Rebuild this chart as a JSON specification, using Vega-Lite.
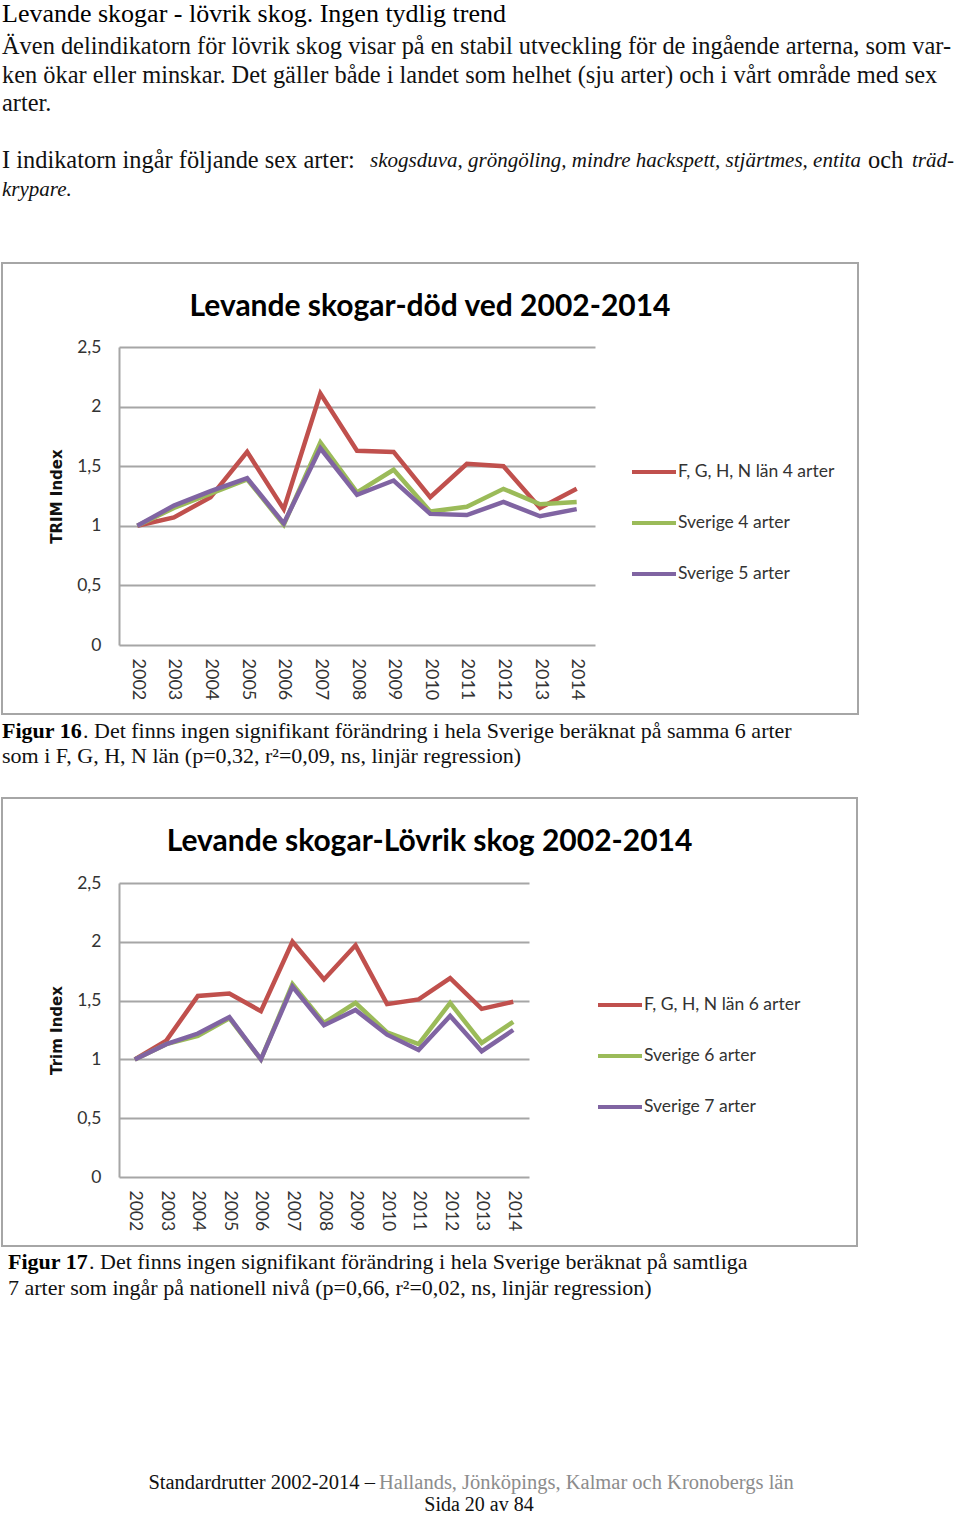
{
  "$schema": "https://vega.github.io/schema/vega-lite/v6.json",
  "padding": {"left": 1, "top": 0, "right": 0, "bottom": 0},
  "background": "white",
  "spacing": 0,
  "bounds": "flush",
  "config": {"view": {"stroke": null}},
  "resolve": {"scale": {"color": "independent"}, "legend": {"color": "independent"}},
  "datasets": {
    "intro": [
      {"kind": "h", "line": 0, "text": "Levande skogar - lövrik skog. Ingen tydlig trend"},
      {"kind": "n", "line": 1, "text": "Även delindikatorn för lövrik skog visar på en stabil utveckling för de ingående arterna, som var-"},
      {"kind": "n", "line": 2, "text": "ken ökar eller minskar. Det gäller både i landet som helhet (sju arter) och i vårt område med sex"},
      {"kind": "n", "line": 3, "text": "arter."},
      {"kind": "n", "line": 5, "text": "I indikatorn ingår följande sex arter:"},
      {"kind": "i1", "line": 5, "text": "skogsduva, gröngöling, mindre hackspett, stjärtmes, entita"},
      {"kind": "n2", "line": 5, "text": "och"},
      {"kind": "i2", "line": 5, "text": "träd-"},
      {"kind": "i0", "line": 6, "text": "krypare."}
    ],
    "cap1": [
      {"kind": "b", "line": 1, "text": "Figur 16"},
      {"kind": "r1", "line": 1, "text": ". Det finns ingen signifikant förändring i hela Sverige beräknat på samma 6 arter"},
      {"kind": "r0", "line": 2, "text": "som i F, G, H, N län (p=0,32, r²=0,09, ns, linjär regression)"}
    ],
    "cap2": [
      {"kind": "b", "line": 1, "text": "Figur 17"},
      {"kind": "r1", "line": 1, "text": ". Det finns ingen signifikant förändring i hela Sverige beräknat på samtliga"},
      {"kind": "r0", "line": 2, "text": "7 arter som ingår på nationell nivå (p=0,66, r²=0,02, ns, linjär regression)"}
    ],
    "foot": [
      {"kind": "k", "line": 1, "text": "Standardrutter 2002-2014 –"},
      {"kind": "g", "line": 1, "text": "Hallands, Jönköpings, Kalmar och Kronobergs län"},
      {"kind": "c", "line": 2, "text": "Sida 20 av 84"}
    ],
    "d1": [
      {"year": "2002", "series": "F, G, H, N län 4 arter", "v": 1.00},
      {"year": "2003", "series": "F, G, H, N län 4 arter", "v": 1.07},
      {"year": "2004", "series": "F, G, H, N län 4 arter", "v": 1.24},
      {"year": "2005", "series": "F, G, H, N län 4 arter", "v": 1.62},
      {"year": "2006", "series": "F, G, H, N län 4 arter", "v": 1.14},
      {"year": "2007", "series": "F, G, H, N län 4 arter", "v": 2.11},
      {"year": "2008", "series": "F, G, H, N län 4 arter", "v": 1.63},
      {"year": "2009", "series": "F, G, H, N län 4 arter", "v": 1.62},
      {"year": "2010", "series": "F, G, H, N län 4 arter", "v": 1.24},
      {"year": "2011", "series": "F, G, H, N län 4 arter", "v": 1.52},
      {"year": "2012", "series": "F, G, H, N län 4 arter", "v": 1.50},
      {"year": "2013", "series": "F, G, H, N län 4 arter", "v": 1.15},
      {"year": "2014", "series": "F, G, H, N län 4 arter", "v": 1.31},
      {"year": "2002", "series": "Sverige 4 arter", "v": 1.00},
      {"year": "2003", "series": "Sverige 4 arter", "v": 1.15},
      {"year": "2004", "series": "Sverige 4 arter", "v": 1.27},
      {"year": "2005", "series": "Sverige 4 arter", "v": 1.39},
      {"year": "2006", "series": "Sverige 4 arter", "v": 1.01},
      {"year": "2007", "series": "Sverige 4 arter", "v": 1.70},
      {"year": "2008", "series": "Sverige 4 arter", "v": 1.28},
      {"year": "2009", "series": "Sverige 4 arter", "v": 1.47},
      {"year": "2010", "series": "Sverige 4 arter", "v": 1.12},
      {"year": "2011", "series": "Sverige 4 arter", "v": 1.16},
      {"year": "2012", "series": "Sverige 4 arter", "v": 1.31},
      {"year": "2013", "series": "Sverige 4 arter", "v": 1.18},
      {"year": "2014", "series": "Sverige 4 arter", "v": 1.20},
      {"year": "2002", "series": "Sverige 5 arter", "v": 1.00},
      {"year": "2003", "series": "Sverige 5 arter", "v": 1.17},
      {"year": "2004", "series": "Sverige 5 arter", "v": 1.29},
      {"year": "2005", "series": "Sverige 5 arter", "v": 1.40},
      {"year": "2006", "series": "Sverige 5 arter", "v": 1.02},
      {"year": "2007", "series": "Sverige 5 arter", "v": 1.65},
      {"year": "2008", "series": "Sverige 5 arter", "v": 1.26},
      {"year": "2009", "series": "Sverige 5 arter", "v": 1.38},
      {"year": "2010", "series": "Sverige 5 arter", "v": 1.10},
      {"year": "2011", "series": "Sverige 5 arter", "v": 1.09},
      {"year": "2012", "series": "Sverige 5 arter", "v": 1.20},
      {"year": "2013", "series": "Sverige 5 arter", "v": 1.08},
      {"year": "2014", "series": "Sverige 5 arter", "v": 1.14}
    ],
    "d2": [
      {"year": "2002", "series": "F, G, H, N län 6 arter", "v": 1.00},
      {"year": "2003", "series": "F, G, H, N län 6 arter", "v": 1.16},
      {"year": "2004", "series": "F, G, H, N län 6 arter", "v": 1.54},
      {"year": "2005", "series": "F, G, H, N län 6 arter", "v": 1.56},
      {"year": "2006", "series": "F, G, H, N län 6 arter", "v": 1.41},
      {"year": "2007", "series": "F, G, H, N län 6 arter", "v": 2.00},
      {"year": "2008", "series": "F, G, H, N län 6 arter", "v": 1.68},
      {"year": "2009", "series": "F, G, H, N län 6 arter", "v": 1.97},
      {"year": "2010", "series": "F, G, H, N län 6 arter", "v": 1.47},
      {"year": "2011", "series": "F, G, H, N län 6 arter", "v": 1.51},
      {"year": "2012", "series": "F, G, H, N län 6 arter", "v": 1.69},
      {"year": "2013", "series": "F, G, H, N län 6 arter", "v": 1.43},
      {"year": "2014", "series": "F, G, H, N län 6 arter", "v": 1.49},
      {"year": "2002", "series": "Sverige 6 arter", "v": 1.00},
      {"year": "2003", "series": "Sverige 6 arter", "v": 1.13},
      {"year": "2004", "series": "Sverige 6 arter", "v": 1.20},
      {"year": "2005", "series": "Sverige 6 arter", "v": 1.35},
      {"year": "2006", "series": "Sverige 6 arter", "v": 1.00},
      {"year": "2007", "series": "Sverige 6 arter", "v": 1.64},
      {"year": "2008", "series": "Sverige 6 arter", "v": 1.31},
      {"year": "2009", "series": "Sverige 6 arter", "v": 1.48},
      {"year": "2010", "series": "Sverige 6 arter", "v": 1.23},
      {"year": "2011", "series": "Sverige 6 arter", "v": 1.13},
      {"year": "2012", "series": "Sverige 6 arter", "v": 1.48},
      {"year": "2013", "series": "Sverige 6 arter", "v": 1.14},
      {"year": "2014", "series": "Sverige 6 arter", "v": 1.32},
      {"year": "2002", "series": "Sverige 7 arter", "v": 1.00},
      {"year": "2003", "series": "Sverige 7 arter", "v": 1.13},
      {"year": "2004", "series": "Sverige 7 arter", "v": 1.22},
      {"year": "2005", "series": "Sverige 7 arter", "v": 1.36},
      {"year": "2006", "series": "Sverige 7 arter", "v": 1.00},
      {"year": "2007", "series": "Sverige 7 arter", "v": 1.62},
      {"year": "2008", "series": "Sverige 7 arter", "v": 1.29},
      {"year": "2009", "series": "Sverige 7 arter", "v": 1.42},
      {"year": "2010", "series": "Sverige 7 arter", "v": 1.21},
      {"year": "2011", "series": "Sverige 7 arter", "v": 1.08},
      {"year": "2012", "series": "Sverige 7 arter", "v": 1.37},
      {"year": "2013", "series": "Sverige 7 arter", "v": 1.07},
      {"year": "2014", "series": "Sverige 7 arter", "v": 1.25}
    ]
  },
  "vconcat": [
    {
      "width": 958, "height": 263,
      "data": {"name": "intro"},
      "layer": [
        {"transform": [{"filter": "datum.kind === 'h'"}],
         "mark": {"type": "text", "align": "left", "baseline": "middle", "font": "Liberation Serif", "fontSize": 26, "dy": -5, "color": "#000"},
         "encoding": {"x": {"value": 0}, "y": {"field": "line", "type": "quantitative", "scale": {"domain": [1, 6], "range": [47, 189.5]}, "axis": null}, "text": {"field": "text"}}},
        {"transform": [{"filter": "datum.kind === 'n'"}],
         "mark": {"type": "text", "align": "left", "baseline": "middle", "font": "Liberation Serif", "fontSize": 24.4, "color": "#111"},
         "encoding": {"x": {"value": 0}, "y": {"field": "line", "type": "quantitative", "scale": {"domain": [1, 6], "range": [47, 189.5]}, "axis": null}, "text": {"field": "text"}}},
        {"transform": [{"filter": "datum.kind === 'i0'"}],
         "mark": {"type": "text", "align": "left", "baseline": "middle", "font": "Liberation Serif", "fontSize": 21, "fontStyle": "italic", "color": "#111"},
         "encoding": {"x": {"value": 0}, "y": {"field": "line", "type": "quantitative", "scale": {"domain": [1, 6], "range": [47, 189.5]}, "axis": null}, "text": {"field": "text"}}},
        {"transform": [{"filter": "datum.kind === 'i1'"}],
         "mark": {"type": "text", "align": "left", "baseline": "middle", "font": "Liberation Serif", "fontSize": 21, "fontStyle": "italic", "color": "#111"},
         "encoding": {"x": {"value": 368}, "y": {"field": "line", "type": "quantitative", "scale": {"domain": [1, 6], "range": [47, 189.5]}, "axis": null}, "text": {"field": "text"}}},
        {"transform": [{"filter": "datum.kind === 'n2'"}],
         "mark": {"type": "text", "align": "left", "baseline": "middle", "font": "Liberation Serif", "fontSize": 24.4, "color": "#111"},
         "encoding": {"x": {"value": 866}, "y": {"field": "line", "type": "quantitative", "scale": {"domain": [1, 6], "range": [47, 189.5]}, "axis": null}, "text": {"field": "text"}}},
        {"transform": [{"filter": "datum.kind === 'i2'"}],
         "mark": {"type": "text", "align": "left", "baseline": "middle", "font": "Liberation Serif", "fontSize": 21, "fontStyle": "italic", "color": "#111"},
         "encoding": {"x": {"value": 910}, "y": {"field": "line", "type": "quantitative", "scale": {"domain": [1, 6], "range": [47, 189.5]}, "axis": null}, "text": {"field": "text"}}}
      ]
    },
    {
      "width": 856, "height": 451,
      "view": {"stroke": "#a6a6a6", "strokeWidth": 2},
      "title": {"text": "Levande skogar-död ved 2002-2014", "font": "Lato", "fontSize": 30, "fontWeight": "bold", "color": "#000", "anchor": "middle", "frame": "group", "offset": -59},
      "data": {"name": "d1"},
      "mark": {"type": "line", "strokeWidth": 4.5, "strokeJoin": "miter"},
      "encoding": {
        "x": {"field": "year", "type": "ordinal", "scale": {"type": "point", "padding": 0.5, "range": [117, 593]},
              "axis": {"orient": "bottom", "offset": -69, "domain": false, "ticks": false, "grid": false, "labelAngle": 90, "labelAlign": "left", "labelBaseline": "middle", "labelPadding": 13, "labelFont": "Lato", "labelFontSize": 18, "labelColor": "#333", "title": null}},
        "y": {"field": "v", "type": "quantitative", "scale": {"domain": [0, 2.5], "range": [382, 84], "nice": false, "zero": false},
              "axis": {"orient": "left", "offset": -117, "values": [0, 0.5, 1, 1.5, 2, 2.5], "labelExpr": "replace(format(datum.value, '~g'), '.', ',')", "grid": true, "gridColor": "#a6a6a6", "gridWidth": 2, "domainColor": "#a6a6a6", "domainWidth": 2, "ticks": false, "labelPadding": 18, "labelFont": "Lato", "labelFontSize": 17.5, "labelColor": "#333", "title": "TRIM Index", "titleFont": "DejaVu Sans", "titleFontSize": 15, "titleFontWeight": "bold", "titleColor": "#111", "titleX": -63, "titleY": 233, "titleAngle": -90, "titleAlign": "center", "titleBaseline": "middle"}},
        "color": {"field": "series", "type": "nominal",
                  "scale": {"domain": ["F, G, H, N län 4 arter", "Sverige 4 arter", "Sverige 5 arter"], "range": ["#c0504d", "#9bbb59", "#8064a2"]},
                  "legend": {"orient": "none", "legendX": 628, "legendY": 185, "title": null, "symbolType": "stroke", "symbolSize": 1936, "symbolStrokeWidth": 4, "labelFont": "Lato", "labelFontSize": 17.5, "labelColor": "#333", "labelOffset": 0, "rowPadding": 18, "padding": 0}}
      }
    },
    {
      "width": 958, "height": 84,
      "data": {"name": "cap1"},
      "layer": [
        {"transform": [{"filter": "datum.kind === 'b'"}],
         "mark": {"type": "text", "align": "left", "baseline": "middle", "font": "Liberation Serif", "fontSize": 22, "fontWeight": "bold", "color": "#000"},
         "encoding": {"x": {"value": 0}, "y": {"field": "line", "type": "quantitative", "scale": {"domain": [1, 2], "range": [17, 42]}, "axis": null}, "text": {"field": "text"}}},
        {"transform": [{"filter": "datum.kind === 'r1'"}],
         "mark": {"type": "text", "align": "left", "baseline": "middle", "font": "Liberation Serif", "fontSize": 22, "color": "#111"},
         "encoding": {"x": {"value": 81}, "y": {"field": "line", "type": "quantitative", "scale": {"domain": [1, 2], "range": [17, 42]}, "axis": null}, "text": {"field": "text"}}},
        {"transform": [{"filter": "datum.kind === 'r0'"}],
         "mark": {"type": "text", "align": "left", "baseline": "middle", "font": "Liberation Serif", "fontSize": 22, "color": "#111"},
         "encoding": {"x": {"value": 0}, "y": {"field": "line", "type": "quantitative", "scale": {"domain": [1, 2], "range": [17, 42]}, "axis": null}, "text": {"field": "text"}}}
      ]
    },
    {
      "width": 855, "height": 448,
      "view": {"stroke": "#a6a6a6", "strokeWidth": 2},
      "title": {"text": "Levande skogar-Lövrik skog 2002-2014", "font": "Lato", "fontSize": 30, "fontWeight": "bold", "color": "#000", "anchor": "middle", "frame": "group", "offset": -59},
      "data": {"name": "d2"},
      "mark": {"type": "line", "strokeWidth": 4.5, "strokeJoin": "miter"},
      "encoding": {
        "x": {"field": "year", "type": "ordinal", "scale": {"type": "point", "padding": 0.5, "range": [117, 527]},
              "axis": {"orient": "bottom", "offset": -69, "domain": false, "ticks": false, "grid": false, "labelAngle": 90, "labelAlign": "left", "labelBaseline": "middle", "labelPadding": 13, "labelFont": "Lato", "labelFontSize": 17.5, "labelColor": "#333", "title": null}},
        "y": {"field": "v", "type": "quantitative", "scale": {"domain": [0, 2.5], "range": [379, 85], "nice": false, "zero": false},
              "axis": {"orient": "left", "offset": -117, "values": [0, 0.5, 1, 1.5, 2, 2.5], "labelExpr": "replace(format(datum.value, '~g'), '.', ',')", "grid": true, "gridColor": "#a6a6a6", "gridWidth": 2, "domainColor": "#a6a6a6", "domainWidth": 2, "ticks": false, "labelPadding": 18, "labelFont": "Lato", "labelFontSize": 17.5, "labelColor": "#333", "title": "Trim Index", "titleFont": "DejaVu Sans", "titleFontSize": 15, "titleFontWeight": "bold", "titleColor": "#111", "titleX": -63, "titleY": 232, "titleAngle": -90, "titleAlign": "center", "titleBaseline": "middle"}},
        "color": {"field": "series", "type": "nominal",
                  "scale": {"domain": ["F, G, H, N län 6 arter", "Sverige 6 arter", "Sverige 7 arter"], "range": ["#c0504d", "#9bbb59", "#8064a2"]},
                  "legend": {"orient": "none", "legendX": 594, "legendY": 183, "title": null, "symbolType": "stroke", "symbolSize": 1936, "symbolStrokeWidth": 4, "labelFont": "Lato", "labelFontSize": 17.5, "labelColor": "#333", "labelOffset": 0, "rowPadding": 18, "padding": 0}}
      }
    },
    {
      "width": 958, "height": 200,
      "data": {"name": "cap2"},
      "layer": [
        {"transform": [{"filter": "datum.kind === 'b'"}],
         "mark": {"type": "text", "align": "left", "baseline": "middle", "font": "Liberation Serif", "fontSize": 22, "fontWeight": "bold", "color": "#000"},
         "encoding": {"x": {"value": 6}, "y": {"field": "line", "type": "quantitative", "scale": {"domain": [1, 2], "range": [16, 42]}, "axis": null}, "text": {"field": "text"}}},
        {"transform": [{"filter": "datum.kind === 'r1'"}],
         "mark": {"type": "text", "align": "left", "baseline": "middle", "font": "Liberation Serif", "fontSize": 22, "color": "#111"},
         "encoding": {"x": {"value": 87}, "y": {"field": "line", "type": "quantitative", "scale": {"domain": [1, 2], "range": [16, 42]}, "axis": null}, "text": {"field": "text"}}},
        {"transform": [{"filter": "datum.kind === 'r0'"}],
         "mark": {"type": "text", "align": "left", "baseline": "middle", "font": "Liberation Serif", "fontSize": 22, "color": "#111"},
         "encoding": {"x": {"value": 6}, "y": {"field": "line", "type": "quantitative", "scale": {"domain": [1, 2], "range": [16, 42]}, "axis": null}, "text": {"field": "text"}}}
      ]
    },
    {
      "width": 958, "height": 69,
      "data": {"name": "foot"},
      "layer": [
        {"transform": [{"filter": "datum.kind === 'k'"}],
         "mark": {"type": "text", "align": "right", "baseline": "middle", "font": "Liberation Serif", "fontSize": 20.5, "color": "#111"},
         "encoding": {"x": {"value": 373}, "y": {"field": "line", "type": "quantitative", "scale": {"domain": [1, 2], "range": [37, 59]}, "axis": null}, "text": {"field": "text"}}},
        {"transform": [{"filter": "datum.kind === 'g'"}],
         "mark": {"type": "text", "align": "left", "baseline": "middle", "font": "Liberation Serif", "fontSize": 20.5, "color": "#8c8c8c"},
         "encoding": {"x": {"value": 377}, "y": {"field": "line", "type": "quantitative", "scale": {"domain": [1, 2], "range": [37, 59]}, "axis": null}, "text": {"field": "text"}}},
        {"transform": [{"filter": "datum.kind === 'c'"}],
         "mark": {"type": "text", "align": "center", "baseline": "middle", "font": "Liberation Serif", "fontSize": 20, "color": "#111"},
         "encoding": {"x": {"value": 477}, "y": {"field": "line", "type": "quantitative", "scale": {"domain": [1, 2], "range": [37, 59]}, "axis": null}, "text": {"field": "text"}}}
      ]
    }
  ]
}
